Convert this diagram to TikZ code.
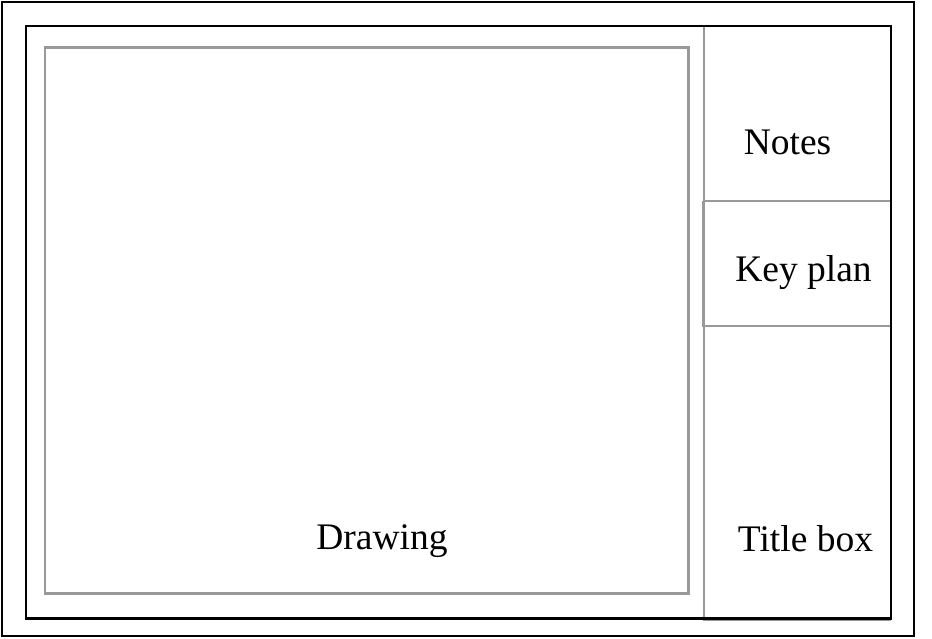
\documentclass[tikz,border=0pt]{standalone}
\usepackage{fontspec}
\setmainfont{Liberation Serif}
\begin{document}
\begin{tikzpicture}[x=1pt,y=-1pt,
  blackline/.style={draw=black,line width=2.6pt},
  grayline/.style={draw=black!40,line width=2.2pt},
  lbl/.style={font=\fontsize{37.5}{40}\selectfont,anchor=base,inner sep=0pt}]
\useasboundingbox[fill=white] (0,0) rectangle (932,639);
\draw[blackline] (2,2) rectangle (914,636);
\draw[grayline] (45,47.5) rectangle (688.5,593.5);
\draw[grayline] (704,26) -- (704,620) -- (891,620);
\draw[grayline] (703,201) -- (891,201);
\draw[grayline] (703,201) -- (703,326) -- (891,326);
\draw[blackline] (26,26) rectangle (891,618.5);
\node[lbl] (notes) at (787.5,155) {Notes};
\node[lbl] (keyplan) at (803.5,282) {Key plan};
\node[lbl] (titlebox) at (805.5,551) {Title box};
\node[lbl] (drawing) at (382,549) {Drawing};
\end{tikzpicture}
\end{document}
